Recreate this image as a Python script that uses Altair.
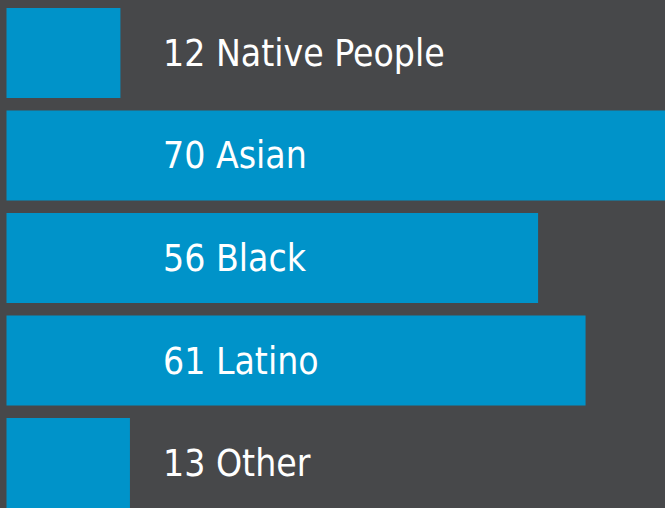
import altair as alt
import pandas as pd

categories = ["Native People", "Asian", "Black", "Latino", "Other"]
values = [12, 70, 56, 61, 13]

df = pd.DataFrame({"category": categories, "value": values})
df["label"] = df["value"].astype(str) + " " + df["category"]

BG = "#47484a"
BLUE = "#0093c9"

y_enc = alt.Y("category:N", sort=categories, axis=None,
              scale=alt.Scale(range=[8, 508], paddingInner=0.122, paddingOuter=0))

bars = alt.Chart(df).mark_bar(color=BLUE, clip=True).encode(
    x=alt.X("value:Q", axis=None,
            scale=alt.Scale(domain=[0, 70], range=[6.5, 671], nice=False, zero=True)),
    y=y_enc,
)

text = alt.Chart(df).mark_text(
    align="left", baseline="middle", color="white",
    font="DejaVu Sans Condensed",
    fontSize=37, fontWeight="normal", dy=2,
).encode(
    x=alt.value(163),
    y=alt.Y("category:N", sort=categories, axis=None),
    text="label:N",
)

chart = alt.layer(bars, text).properties(
    width=665, height=508, background=BG, padding=0,
    autosize=alt.AutoSizeParams(type="none"),
).configure_view(stroke=None, fill=BG)

chart.save("out.html", embed_options={"renderer": "svg", "actions": False})
